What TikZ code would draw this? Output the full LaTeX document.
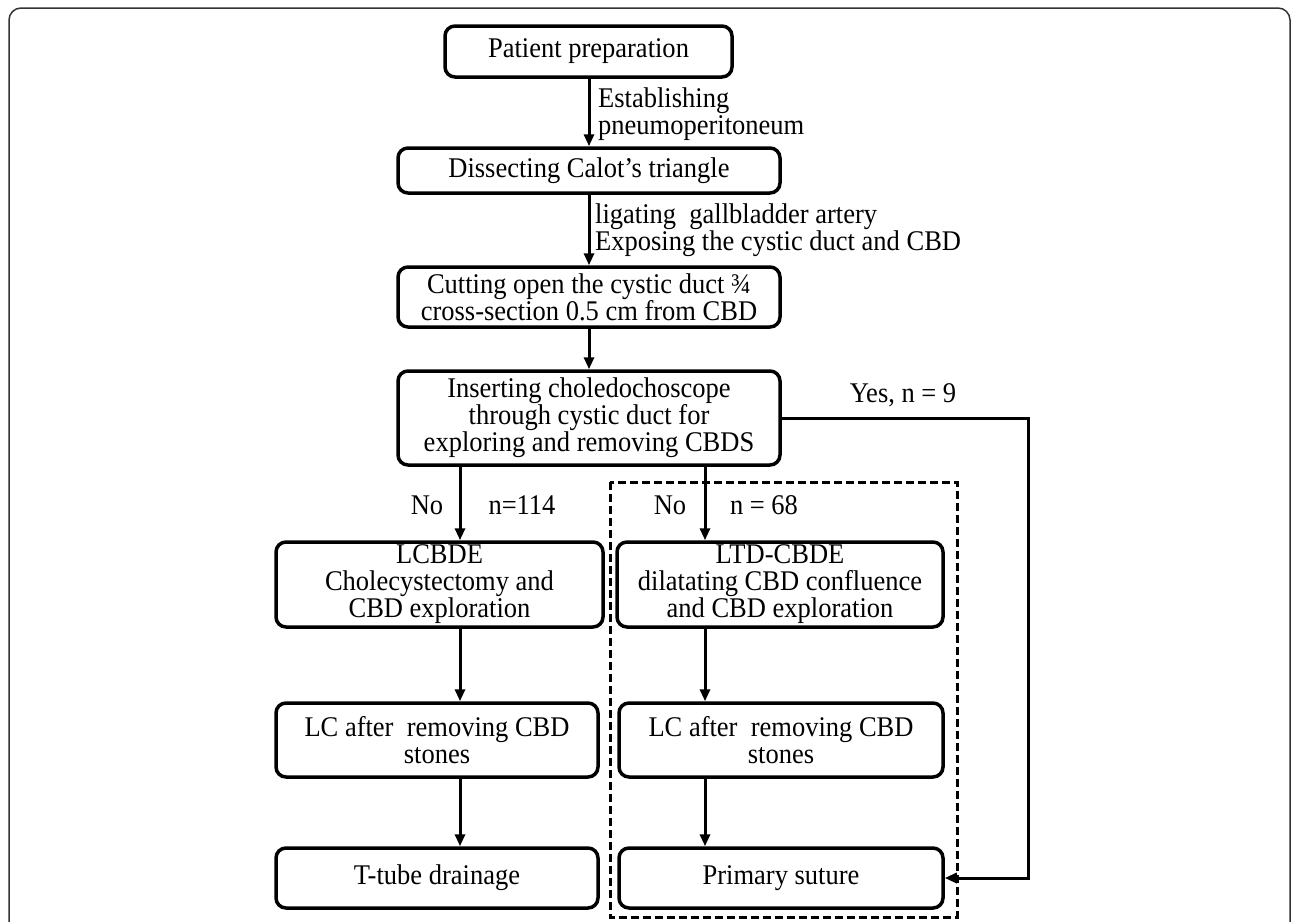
\documentclass[tikz,border=0pt]{standalone}
\usepackage{fontspec}
\setmainfont{Liberation Serif}[FakeStretch=0.93]
\usetikzlibrary{arrows.meta}
\newcommand\figfont{\fontsize{28.5}{27}\selectfont}
\begin{document}
\begin{tikzpicture}[x=1pt,y=-1pt,
  box/.style={draw, line width=3.5pt, rounded corners=10pt, align=center, inner sep=0pt, font=\figfont},
  arr/.style={line width=3pt, -{Triangle[length=12pt,width=10pt]}},
  lbl/.style={inner sep=0pt, font=\figfont},
  frame/.style={line width=1.5pt, draw=black!80, rounded corners=12pt},
  dashbox/.style={line width=3pt, dash pattern=on 8pt off 4pt}]
\useasboundingbox (0,0) rectangle (1292,921);
\clip (0,0) rectangle (1292,921);
\draw[frame] (9,8) rectangle (1290,980);

% boxes
\node[box, minimum width=287pt, minimum height=51pt] (prep) at (588.5,51.5) {Patient preparation};
\node[box, minimum width=382pt, minimum height=45pt] (diss) at (589,170.5) {Dissecting Calot’s triangle};
\node[box, minimum width=382pt, minimum height=60pt] (cut) at (589,297) {Cutting open the cystic duct ¾\\cross-section 0.5 cm from CBD};
\node[box, minimum width=382pt, minimum height=94pt] (ins) at (589,418) {Inserting choledochoscope\\through cystic duct for\\exploring and removing CBDS};
\node[box, minimum width=327pt, minimum height=85pt] (lcbde) at (439.5,584.5) {LCBDE\\Cholecystectomy and\\CBD exploration};
\node[box, minimum width=322pt, minimum height=74pt] (lca) at (437,740) {LC after~ removing CBD\\stones};
\node[box, minimum width=322pt, minimum height=60pt] (tt) at (437,878) {T-tube drainage};
\node[box, minimum width=326pt, minimum height=85pt] (ltd) at (780,584.5) {LTD-CBDE\\dilatating CBD confluence\\and CBD exploration};
\node[box, minimum width=324pt, minimum height=74pt] (lcb) at (781,740) {LC after~ removing CBD\\stones};
\node[box, minimum width=324pt, minimum height=60pt] (ps) at (781,878) {Primary suture};

% dashed group
\draw[dashbox] (610,482) rectangle (957,917);

% column x positions
\coordinate (cx) at (589,0);
\coordinate (lx) at (460,0);
\coordinate (rx) at (705,0);
\coordinate (yx) at (1028,0);

% arrows
\draw[arr] (prep.south -| cx) -- (diss.north -| cx);
\draw[arr] (diss.south -| cx) -- (cut.north -| cx);
\draw[arr] (cut.south -| cx) -- (ins.north -| cx);
\draw[arr] (ins.south -| lx) -- (lcbde.north -| lx);
\draw[arr] (ins.south -| rx) -- (ltd.north -| rx);
\draw[arr] (lcbde.south -| lx) -- (lca.north -| lx);
\draw[arr] (lca.south -| lx) -- (tt.north -| lx);
\draw[arr] (ltd.south -| rx) -- (lcb.north -| rx);
\draw[arr] (lcb.south -| rx) -- (ps.north -| rx);
\draw[arr] (ins.east) -- (ins.east -| yx) |- (ps.east);

% labels
\node[lbl, anchor=west, align=left] (l1) at (598,114) {Establishing\\pneumoperitoneum};
\node[lbl, anchor=west, align=left] (l2) at (595,230) {ligating~ gallbladder artery\\Exposing the cystic duct and CBD};
\node[lbl] (yes) at (903,395) {Yes, n = 9};
\node[lbl] (no1) at (427,505) {No};
\node[lbl] (n1) at (522,505) {n=114};
\node[lbl] (no2) at (670,505) {No};
\node[lbl] (n2) at (764,505) {n = 68};
\end{tikzpicture}
\end{document}
